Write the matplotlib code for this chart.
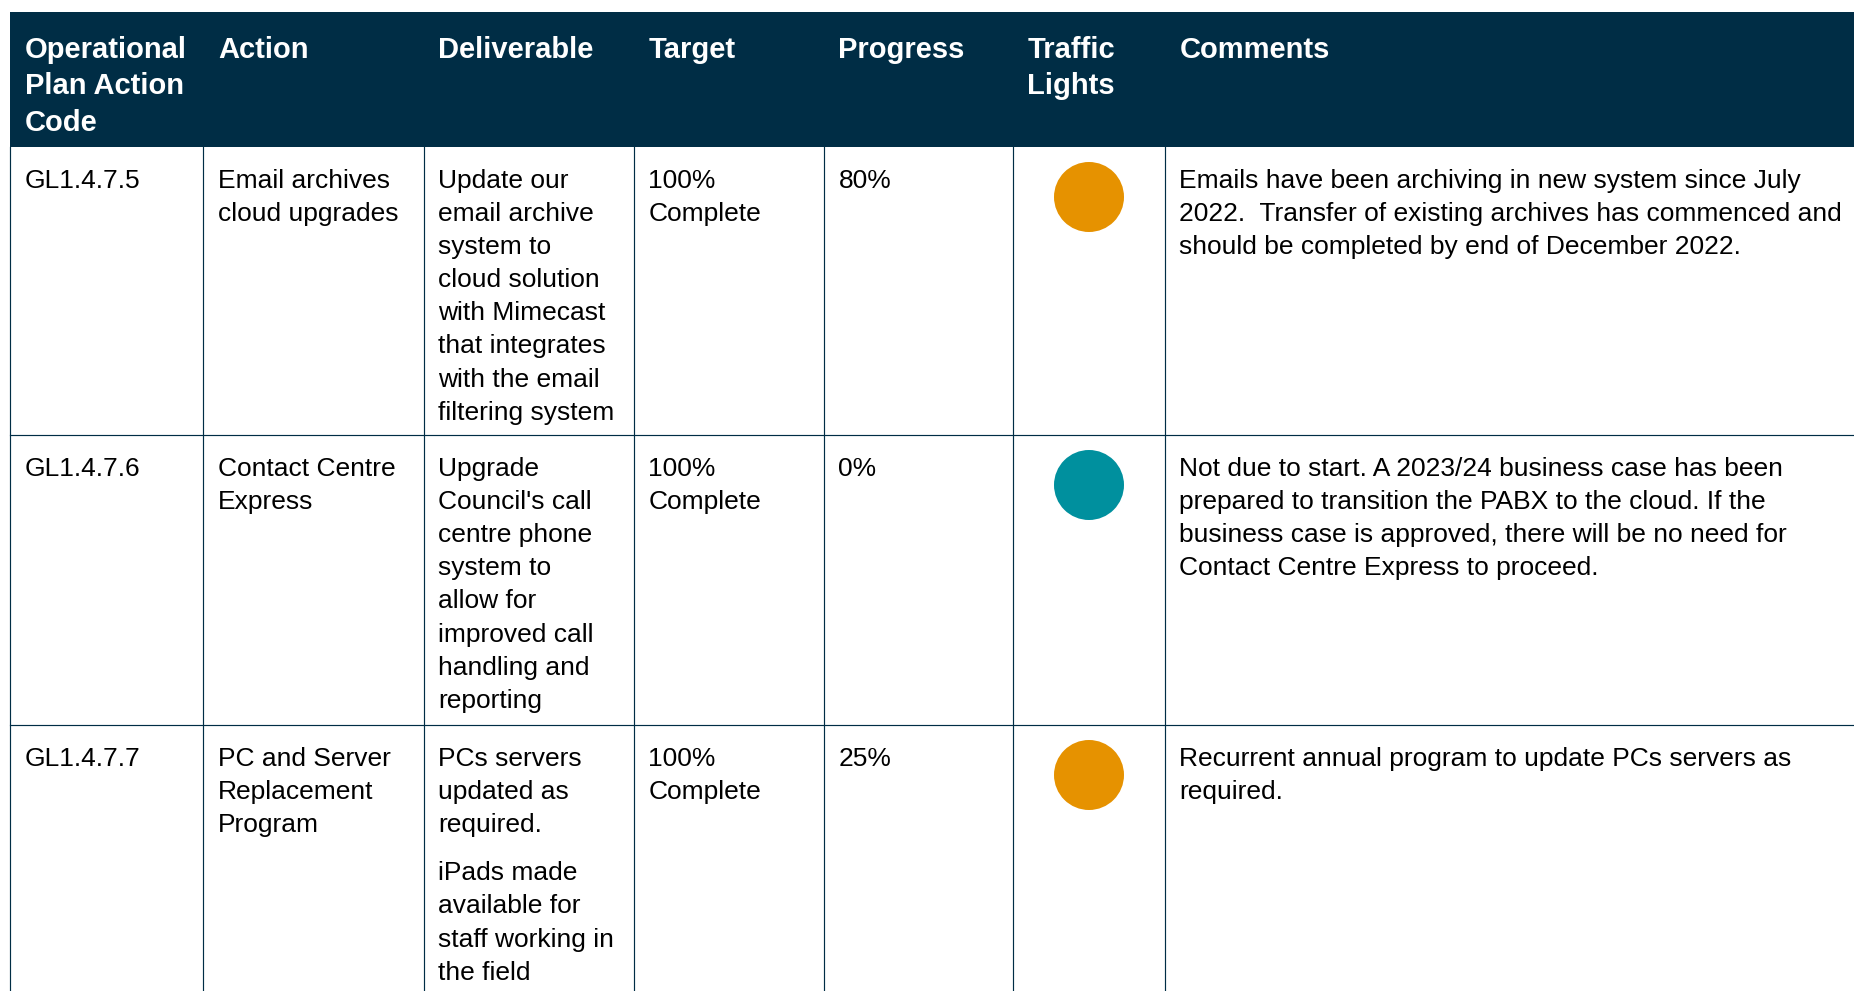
import matplotlib
matplotlib.use("Agg")
import matplotlib.pyplot as plt
from matplotlib.patches import Rectangle, Ellipse

# ---------------- data ----------------
headers = [["Operational", "Plan Action", "Code"], ["Action"], ["Deliverable"],
           ["Target"], ["Progress"], ["Traffic", "Lights"], ["Comments"]]
codes = ["GL1.4.7.5", "GL1.4.7.6", "GL1.4.7.7"]
actions = [["Email archives", "cloud upgrades"],
           ["Contact Centre", "Express"],
           ["PC and Server", "Replacement", "Program"]]
deliverables = [
    [["Update our", "email archive", "system to", "cloud solution", "with Mimecast",
      "that integrates", "with the email", "filtering system"]],
    [["Upgrade", "Council's call", "centre phone", "system to", "allow for",
      "improved call", "handling and", "reporting"]],
    [["PCs servers", "updated as", "required."],
     ["iPads made", "available for", "staff working in", "the field"]],
]
targets = [["100%", "Complete"]] * 3
progress = ["80%", "0%", "25%"]
lights = ["amber", "teal", "amber"]
comments = [
    ["Emails have been archiving in new system since July",
     "2022.  Transfer of existing archives has commenced and",
     "should be completed by end of December 2022."],
    ["Not due to start. A 2023/24 business case has been",
     "prepared to transition the PABX to the cloud. If the",
     "business case is approved, there will be no need for",
     "Contact Centre Express to proceed."],
    ["Recurrent annual program to update PCs servers as",
     "required."],
]

# ---------------- style / layout ----------------
NAVY = "#002D45"
LIGHT_COLORS = {"amber": "#E69200", "teal": "#00909E"}
W, H = 1854, 991
col_x = [10.5, 203.5, 424, 634, 824, 1013, 1165, W + 5]
header_top, header_bot = 12, 147
row_tops = [147, 435, 725, H + 5]
pad_x = 14.5
body_fs = 19
head_fs = 21
line_h = 33.1
head_line_h = 36.3
para_gap = 15
first_base = 41
head_first_base = 46

plt.rcParams['font.family'] = ['Liberation Sans', 'DejaVu Sans']
fig = plt.figure(figsize=(W / 100, H / 100), dpi=100)
ax = fig.add_axes([0, 0, 1, 1])
ax.set_xlim(0, W)
ax.set_ylim(H, 0)
ax.axis("off")

# header
ax.add_patch(Rectangle((col_x[0], header_top), W - col_x[0] + 5, header_bot - header_top,
                       facecolor=NAVY, edgecolor="none"))
for ci, lines in enumerate(headers):
    for li, t in enumerate(lines):
        ax.text(col_x[ci] + pad_x, header_top + head_first_base + li * head_line_h, t,
                color="white", fontsize=head_fs, fontweight="bold", va="baseline", ha="left")

# grid lines
for x in col_x[:-1]:
    ax.plot([x, x], [header_bot, H + 5], color=NAVY, lw=0.85)
for y in row_tops[1:-1]:
    ax.plot([col_x[0], W + 5], [y, y], color=NAVY, lw=0.85)


def put_lines(ci, ri, lines):
    y = row_tops[ri] + first_base
    for li, t in enumerate(lines):
        ax.text(col_x[ci] + pad_x, y + li * line_h, t, fontsize=body_fs, color="black",
                va="baseline", ha="left")


for ri in range(3):
    put_lines(0, ri, [codes[ri]])
    put_lines(1, ri, actions[ri])
    # deliverables with paragraphs
    y = row_tops[ri] + first_base
    for pi, para in enumerate(deliverables[ri]):
        if pi > 0:
            y += para_gap
        for t in para:
            ax.text(col_x[2] + pad_x, y, t, fontsize=body_fs, color="black",
                    va="baseline", ha="left")
            y += line_h
    put_lines(3, ri, targets[ri])
    put_lines(4, ri, [progress[ri]])
    cx = (col_x[5] + col_x[6]) / 2
    ax.add_patch(Ellipse((cx, row_tops[ri] + 50), 70, 70,
                         facecolor=LIGHT_COLORS[lights[ri]], edgecolor="none"))
    put_lines(6, ri, comments[ri])

fig.savefig("out.png", dpi=100, facecolor="white")
